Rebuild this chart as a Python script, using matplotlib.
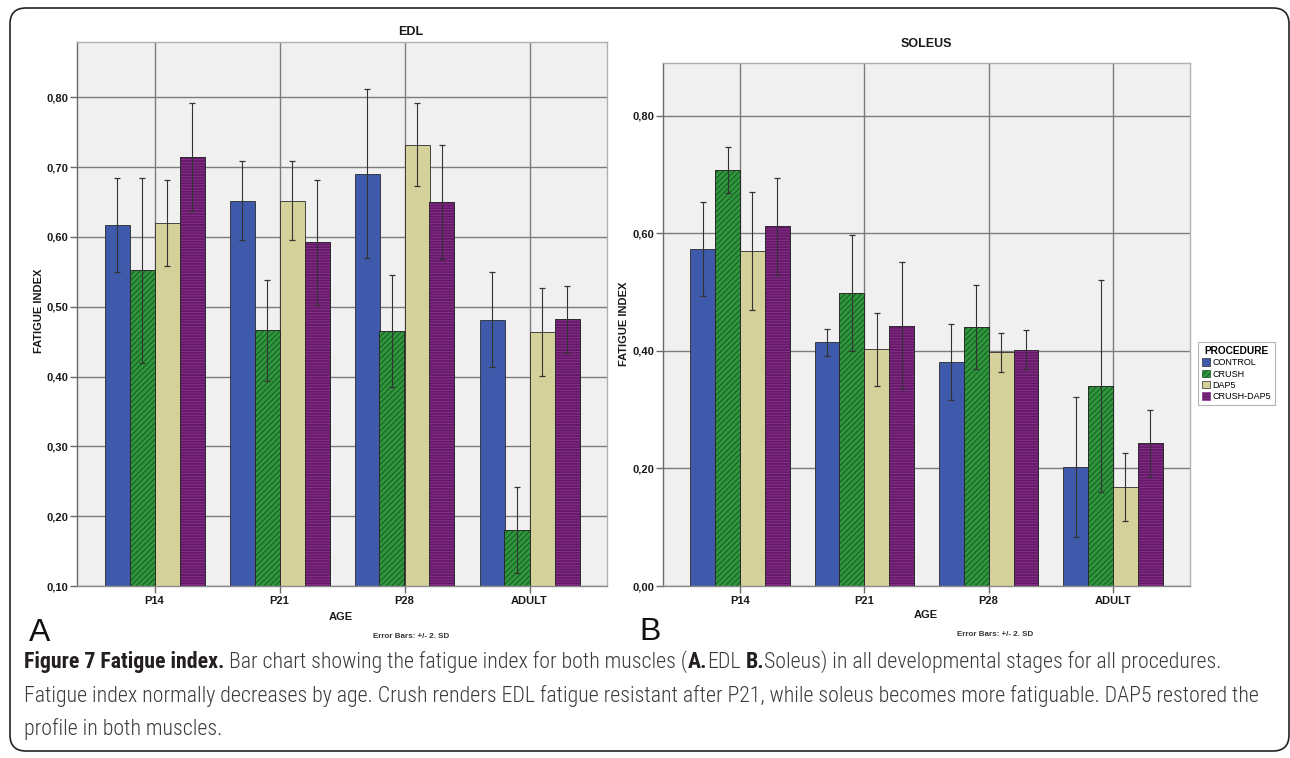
import numpy as np
import matplotlib
matplotlib.use("Agg")
import matplotlib.pyplot as plt
from matplotlib.patches import Patch, FancyBboxPatch, BoxStyle
from matplotlib import font_manager

# ---------------- data ----------------
ages = ["P14", "P21", "P28", "ADULT"]
procedures = ["CONTROL", "CRUSH", "DAP5", "CRUSH-DAP5"]

edl_control = [0.617, 0.652, 0.690, 0.481]
edl_crush = [0.552, 0.466, 0.465, 0.180]
edl_dap5 = [0.620, 0.652, 0.732, 0.464]
edl_crush_dap5 = [0.714, 0.592, 0.650, 0.482]
edl_control_err = [0.067, 0.056, 0.121, 0.068]
edl_crush_err = [0.132, 0.072, 0.080, 0.062]
edl_dap5_err = [0.062, 0.057, 0.059, 0.063]
edl_crush_dap5_err = [0.077, 0.089, 0.082, 0.048]

sol_control = [0.573, 0.415, 0.381, 0.203]
sol_crush = [0.708, 0.499, 0.441, 0.340]
sol_dap5 = [0.570, 0.403, 0.398, 0.169]
sol_crush_dap5 = [0.612, 0.443, 0.402, 0.243]
sol_control_err = [0.080, 0.023, 0.065, 0.119]
sol_crush_err = [0.039, 0.099, 0.071, 0.180]
sol_dap5_err = [0.100, 0.062, 0.033, 0.058]
sol_crush_dap5_err = [0.082, 0.108, 0.033, 0.057]

edl_yticks = [0.10, 0.20, 0.30, 0.40, 0.50, 0.60, 0.70, 0.80]
sol_yticks = [0.00, 0.20, 0.40, 0.60, 0.80]

caption_lines = [
    [("Figure 7 Fatigue index.", True), (" ", False),
     ("Bar chart showing the fatigue index for both muscles (", False), ("A.", True),
     ("EDL", False), (" ", False), ("B.", True),
     ("Soleus) in all developmental stages for all procedures.", False)],
    [("Fatigue index normally decreases by age. Crush renders EDL fatigue resistant after P21, "
      "while soleus becomes more fatiguable. DAP5 restored the", False)],
    [("profile in both muscles.", False)],
]

# ---------------- style ----------------
face_colors = ["#3f5aab", "#2e963d", "#d5d19b", "#641a66"]
hatch_colors = [None, "#17501f", None, "#8e3294"]
hatches = [None, "//////", None, "------"]

W, H = 1290, 758
plt.rcParams["font.family"] = ["Liberation Sans", "DejaVu Sans"]
plt.rcParams["hatch.linewidth"] = 0.6

fig = plt.figure(figsize=(W / 100, H / 100), dpi=100)
fig.patch.set_facecolor("white")


def fx(px):
    return px / W


def fy(py):
    return 1 - py / H


def draw_panel(ax, series, errs, ylim, yticks):
    x = np.arange(len(ages))
    bw = 0.2
    for j, (vals, err) in enumerate(zip(series, errs)):
        pos = x + (j - 1.5) * bw
        ax.bar(pos, vals, width=bw, color=face_colors[j], edgecolor="#2a2a2a",
               linewidth=0.6, zorder=2, bottom=0)
        if hatches[j]:
            ax.bar(pos, vals, width=bw, facecolor="none", edgecolor=hatch_colors[j],
                   hatch=hatches[j], linewidth=0, zorder=2.1)
            ax.bar(pos, vals, width=bw, facecolor="none", edgecolor="#2a2a2a",
                   linewidth=0.6, zorder=2.2)
        ax.errorbar(pos, vals, yerr=err, fmt="none", ecolor="#333333",
                    elinewidth=0.8, capsize=2, capthick=0.9, zorder=3)
    ax.set_xlim(-0.62, 3.62)
    ax.set_ylim(*ylim)
    ax.set_xticks(x)
    ax.set_xticklabels(ages)
    ax.set_yticks(yticks)
    ax.set_yticklabels([f"{v:.2f}".replace(".", ",") for v in yticks])
    ax.set_facecolor("#f0f0f0")
    ax.set_axisbelow(True)
    ax.grid(True, color="#7c7c7c", linewidth=1.0)
    for s in ["top", "right"]:
        ax.spines[s].set_color("#b0b0b0")
        ax.spines[s].set_linewidth(1.0)
    ax.spines["left"].set_color("#6a6a6a")
    ax.spines["bottom"].set_color("#8a8a8a")
    ax.spines["left"].set_linewidth(1.0)
    ax.spines["bottom"].set_linewidth(1.0)
    ax.tick_params(axis="y", direction="out", length=5, width=1, color="#6a6a6a",
                   pad=1, labelsize=8)
    ax.tick_params(axis="x", direction="out", length=5, width=1, color="#6a6a6a",
                   pad=2, labelsize=8)
    for lab in ax.get_xticklabels() + ax.get_yticklabels():
        lab.set_fontweight("bold")
        lab.set_color("#1a1a1a")


# EDL panel
ax1 = fig.add_axes([fx(77), fy(586), fx(607) - fx(77), fy(42) - fy(586)])
draw_panel(ax1, [edl_control, edl_crush, edl_dap5, edl_crush_dap5],
           [edl_control_err, edl_crush_err, edl_dap5_err, edl_crush_dap5_err],
           (0.10, 0.879), edl_yticks)

# Soleus panel
ax2 = fig.add_axes([fx(663), fy(586), fx(1190) - fx(663), fy(63) - fy(586)])
draw_panel(ax2, [sol_control, sol_crush, sol_dap5, sol_crush_dap5],
           [sol_control_err, sol_crush_err, sol_dap5_err, sol_crush_dap5_err],
           (0.0, 0.890), sol_yticks)

tc = "#1a1a1a"
fig.text(fx(411), fy(32), "EDL", ha="center", va="center", fontsize=9, fontweight="bold", color=tc)
fig.text(fx(926), fy(44), "SOLEUS", ha="center", va="center", fontsize=9, fontweight="bold", color=tc)
fig.text(fx(39), fy(311), "FATIGUE INDEX", ha="center", va="center", rotation=90,
         fontsize=8, fontweight="bold", color=tc)
fig.text(fx(624), fy(324), "FATIGUE INDEX", ha="center", va="center", rotation=90,
         fontsize=8, fontweight="bold", color=tc)
fig.text(fx(341), fy(617), "AGE", ha="center", va="center", fontsize=8, fontweight="bold", color=tc)
fig.text(fx(926), fy(615), "AGE", ha="center", va="center", fontsize=8, fontweight="bold", color=tc)
fig.text(fx(411), fy(637), "Error Bars: +/- 2. SD", ha="center", va="center", fontsize=5.8,
         fontweight="bold", color="#333333")
fig.text(fx(995), fy(635), "Error Bars: +/- 2. SD", ha="center", va="center", fontsize=5.8,
         fontweight="bold", color="#333333")
fig.text(fx(29), fy(633), "A", ha="left", va="center", fontsize=23, color="#111111")
fig.text(fx(639), fy(632), "B", ha="left", va="center", fontsize=23, color="#111111")

# legend
handles = []
for j in range(4):
    if hatches[j]:
        handles.append(Patch(facecolor=face_colors[j], edgecolor=hatch_colors[j],
                             hatch=hatches[j], linewidth=0.5))
    else:
        handles.append(Patch(facecolor=face_colors[j], edgecolor="#2a2a2a", linewidth=0.5))
leg = fig.legend(handles, procedures, loc="upper left", bbox_to_anchor=(fx(1198), fy(342)),
                 title="PROCEDURE", fontsize=6.5, frameon=True, fancybox=False,
                 edgecolor="#a0a0a0", handlelength=0.9, handleheight=0.9,
                 handletextpad=0.25, borderpad=0.45, labelspacing=0.25, borderaxespad=0,
                 title_fontproperties={"weight": "bold", "size": 7.3})
leg.get_frame().set_linewidth(0.8)

# border box
box = FancyBboxPatch((0.10, 0.07), 12.79, 7.43,
                     boxstyle=BoxStyle.Round(pad=0, rounding_size=0.16),
                     transform=fig.dpi_scale_trans, fill=False, lw=1.2, ec="#222222")
fig.add_artist(box)

# caption
names = {f.name for f in font_manager.fontManager.ttflist}
cap_font = "Liberation Sans"
for cand in ["Roboto Condensed", "Liberation Sans Narrow", "Open Sans Condensed",
             "Noto Sans Condensed", "Liberation Sans"]:
    if cand in names:
        cap_font = cand
        break
renderer = fig.canvas.get_renderer()
REG_W = "light"


def seg_width(txt, bold, fs):
    if txt.strip() == "":
        t1 = fig.text(0, 0, "a a", fontsize=fs, family=cap_font, fontweight=REG_W)
        t2 = fig.text(0, 0, "aa", fontsize=fs, family=cap_font, fontweight=REG_W)
        w = t1.get_window_extent(renderer).width - t2.get_window_extent(renderer).width
        t1.remove()
        t2.remove()
        return w
    t = fig.text(0, 0, txt, fontsize=fs, fontweight="bold" if bold else REG_W, family=cap_font)
    w = t.get_window_extent(renderer).width
    t.remove()
    return w


base_fs = 10.0
targets = [1234.0, 1238.0]
scales = []
for segs, tgt in zip(caption_lines[:2], targets):
    wl = sum(seg_width(s, b, base_fs) for s, b in segs)
    scales.append(tgt / wl)
cap_fs = base_fs * min(scales)

line_y = [662, 696, 729]
for segs, yy in zip(caption_lines, line_y):
    xpos = 24.0
    for s, b in segs:
        w = seg_width(s, b, cap_fs)
        if s.strip():
            fig.text(fx(xpos), fy(yy), s, ha="left", va="center", fontsize=cap_fs,
                     fontweight="bold" if b else REG_W, family=cap_font,
                     color="#231f20" if b else "#3a3a3a")
        xpos += w

fig.savefig("out.png", dpi=100, facecolor="white")
